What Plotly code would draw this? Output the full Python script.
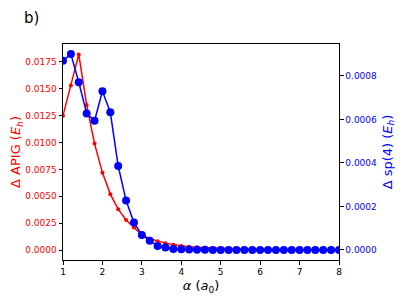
import plotly.graph_objects as go

alpha = [1.0, 1.2, 1.4, 1.6, 1.8, 2.0, 2.2, 2.4, 2.6, 2.8, 3.0, 3.2, 3.4, 3.6, 3.8, 4.0,
         4.2, 4.4, 4.6, 4.8, 5.0, 5.2, 5.4, 5.6, 5.8, 6.0, 6.2, 6.4, 6.6, 6.8, 7.0,
         7.2, 7.4, 7.6, 7.8, 8.0]

apig = [0.0125, 0.0153, 0.0182, 0.0135, 0.0099, 0.0072, 0.0052, 0.0038, 0.0028, 0.0021,
        0.0014, 0.00105, 0.00082, 0.00064, 0.00049, 0.00038, 0.00031, 0.00026, 0.00022,
        0.00019, 0.00016, 0.00013, 0.00011, 0.00009, 0.00008, 0.00006, 0.00005,
        0.00004, 0.000035, 0.00003, 0.000025, 0.00002, 0.000017, 0.000014,
        0.000012, 0.00001]

sp4 = [0.000870, 0.000901, 0.000771, 0.000628, 0.000594, 0.000730, 0.000633, 0.000386,
       0.000227, 0.000126, 0.000069, 0.000043, 0.000018, 0.000011, 0.000005, 0.000003,
       0.000002, 0.000001, 0.0000008, 0.0000005, 0.0000003, 0.0000002, 0.0000001,
       0.0, 0.0, 0.0, 0.0, 0.0, 0.0, 0.0, 0.0, 0.0, 0.0, 0.0, 0.0, 0.0]

left_ticks = [0.0, 0.0025, 0.005, 0.0075, 0.01, 0.0125, 0.015, 0.0175]
right_ticks = [0.0, 0.0002, 0.0004, 0.0006, 0.0008]
x_ticks = [1, 2, 3, 4, 5, 6, 7, 8]

font = "DejaVu Sans"

fig = go.Figure()
fig.add_trace(go.Scatter(x=alpha, y=apig, mode="lines+markers",
                         line=dict(color="red", width=1.5),
                         marker=dict(color="red", size=4), yaxis="y", showlegend=False))
fig.add_trace(go.Scatter(x=alpha, y=sp4, mode="lines+markers",
                         line=dict(color="blue", width=1.5),
                         marker=dict(color="blue", size=8), yaxis="y2", showlegend=False))

# page body has an 8px default margin, so the figure is offset by (8, 8)
fig.update_layout(
    width=395, height=294,
    margin=dict(l=55, r=64, t=36, b=42, autoexpand=False),
    plot_bgcolor="white", paper_bgcolor="white",
    font=dict(family=font, size=9, color="black"),
    xaxis=dict(range=[1, 8], tickvals=x_ticks, ticks="outside", ticklen=3.5,
               tickcolor="black", showline=True, linecolor="black", linewidth=1,
               mirror=True, showgrid=False, zeroline=False, automargin=False,
               tickfont=dict(size=9, color="black"),
               title=dict(text="<i>α</i> (<i>a</i><sub>0</sub>)",
                          font=dict(size=13, color="black"), standoff=4)),
    yaxis=dict(range=[-0.00093, 0.01917], tickvals=left_ticks,
               ticktext=[f"{v:.4f}" for v in left_ticks],
               ticks="outside", ticklen=3.5, tickcolor="black",
               showline=True, linecolor="black", linewidth=1,
               showgrid=False, zeroline=False, automargin=False,
               tickfont=dict(size=9, color="red"),
               title=dict(text="Δ APIG (<i>E<sub>h</sub></i>)",
                          font=dict(size=13, color="red"), standoff=6)),
    yaxis2=dict(range=[-0.000046, 0.000947], tickvals=right_ticks,
                ticktext=[f"{v:.4f}" for v in right_ticks],
                overlaying="y", side="right",
                ticks="outside", ticklen=3.5, tickcolor="black",
                showline=True, linecolor="black", linewidth=1,
                showgrid=False, zeroline=False, automargin=False,
                tickfont=dict(size=9, color="blue"),
                title=dict(text="Δ sp(4) (<i>E<sub>h</sub></i>)",
                           font=dict(size=13, color="blue"), standoff=6)),
)
fig.add_annotation(text="b)", xref="paper", yref="paper", x=-0.15, y=1.12,
                   xanchor="left", yanchor="middle", showarrow=False,
                   font=dict(family=font, size=15, color="black"))

fig.write_html("out.html")
